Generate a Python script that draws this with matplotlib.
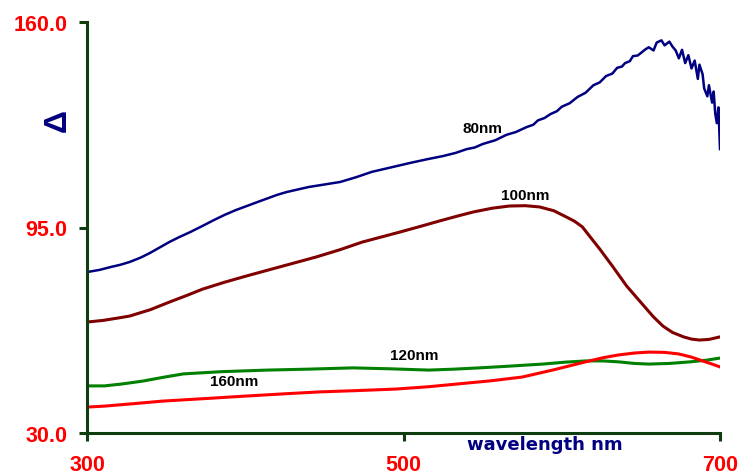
import matplotlib
matplotlib.use("Agg")
import matplotlib.pyplot as plt

# spectra, delta vs wavelength for four film thicknesses
wl_80 = [300, 308, 315, 321, 327, 334, 340, 346, 352, 358, 365, 373, 380, 387,
         394, 401, 408, 414, 420, 426, 433, 440, 450, 460, 470, 480, 492,
         504, 515, 525, 533, 540, 545, 550, 558, 565, 571, 578, 582, 585, 589,
         593, 597, 600, 605, 610, 615, 620, 624, 628, 632, 635, 638, 640, 643,
         645, 648, 650, 653, 655, 658, 660, 663, 665, 668, 670, 672, 674, 676,
         678, 680, 682, 684, 686, 687, 689, 690, 692, 693, 695, 696, 697, 698,
         699, 700]
d_80 = [80.9, 81.6, 82.5, 83.2, 84.1, 85.5, 87.0, 88.7, 90.4, 91.9, 93.5, 95.5,
        97.3, 99.0, 100.5, 101.8, 103.1, 104.2, 105.3, 106.2, 107.0, 107.8,
        108.6, 109.4, 110.9, 112.6, 114.0, 115.4, 116.6, 117.6, 118.6, 119.8,
        120.3, 121.4, 122.6, 124.3, 125.2, 126.8, 127.5, 128.9, 129.6, 130.9,
        131.8, 133.2, 134.3, 136.3, 137.6, 140.0, 140.9, 142.9, 143.7, 145.5,
        145.9, 147.0, 147.6, 149.2, 149.4, 150.2, 151.4, 152.0, 151.0, 153.5,
        154.2, 152.6, 153.8, 152.2, 151.0, 148.5, 151.2, 147.0, 149.5, 145.3,
        147.8, 142.0, 146.5, 143.5, 139.0, 136.5, 140.0, 134.5, 138.0, 131.0,
        128.0, 133.0, 119.8]

wl_100 = [300, 310, 320, 327, 340, 352, 363, 373, 387, 401, 423, 445, 460,
          474, 486, 498, 511, 523, 534, 544, 556, 567, 577, 586, 595, 603,
          608, 613, 618, 624, 632, 641, 650, 658, 664, 670, 677, 682, 687,
          693, 700]
d_100 = [65.1, 65.6, 66.4, 67.0, 69.0, 71.4, 73.5, 75.5, 77.7, 79.7, 82.7,
         85.7, 88.0, 90.4, 92.0, 93.6, 95.4, 97.1, 98.6, 99.9, 101.1, 101.8,
         101.9, 101.5, 100.3, 98.3, 97.0, 95.2, 92.0, 88.2, 82.8, 76.5, 71.3,
         66.7, 63.8, 61.8, 60.4, 59.7, 59.4, 59.6, 60.4]

wl_120 = [300, 311, 322, 335, 348, 361, 385, 414, 440, 468, 492, 516, 532,
          548, 562, 575, 588, 602, 615, 626, 636, 646, 655, 668, 681, 691, 700]
d_120 = [44.9, 44.9, 45.5, 46.4, 47.6, 48.7, 49.4, 49.9, 50.2, 50.6, 50.3,
         49.9, 50.2, 50.6, 51.0, 51.4, 51.8, 52.4, 52.8, 52.8, 52.5, 52.0,
         51.8, 52.0, 52.5, 53.0, 53.7]

wl_160 = [300, 311, 330, 348, 375, 401, 425, 447, 470, 495, 515, 534, 555,
          575, 595, 615, 626, 636, 646, 655, 665, 674, 682, 689, 695, 700]
d_160 = [38.2, 38.5, 39.3, 40.1, 40.9, 41.7, 42.4, 43.0, 43.4, 43.9, 44.6,
         45.5, 46.5, 47.7, 50.0, 52.5, 53.8, 54.7, 55.3, 55.6, 55.5, 55.0,
         54.0, 52.8, 51.8, 50.9]

x_ticks = [300, 500, 700]
y_ticks = [30.0, 95.0, 160.0]

axis_green = "#0f3d0f"
font = "Liberation Sans"

fig = plt.figure(figsize=(7.41, 4.77), dpi=100)
ax = fig.add_axes([87 / 741, 1 - 434 / 477, 633 / 741, 411 / 477])

ax.plot(wl_80, d_80, color="#000080", lw=1.8)
ax.plot(wl_100, d_100, color="#800000", lw=2.2)
ax.plot(wl_120, d_120, color="#008000", lw=2.2)
ax.plot(wl_160, d_160, color="#ff0000", lw=2.2)

ax.set_xlim(300, 700)
ax.set_ylim(30, 160)
ax.set_xticks(x_ticks)
ax.set_yticks(y_ticks)
ax.set_xticklabels([str(t) for t in x_ticks])
ax.set_yticklabels(["%.1f" % t for t in y_ticks])

for side in ("top", "right"):
    ax.spines[side].set_visible(False)
for side in ("left", "bottom"):
    ax.spines[side].set_color(axis_green)
    ax.spines[side].set_linewidth(2.2)
ax.tick_params(direction="out", length=6, width=2.2, color=axis_green,
               labelcolor="#ff0000", labelsize=15.5)
ax.tick_params(axis="x", pad=9)
ax.tick_params(axis="y", pad=8)
for lab in ax.get_xticklabels() + ax.get_yticklabels():
    lab.set_fontfamily(font)
    lab.set_fontweight("bold")

# curve labels
ax.text(550, 126.5, "80nm", ha="center", va="center", fontsize=11,
        fontweight="bold", family=font)
ax.text(577, 105.3, "100nm", ha="center", va="center", fontsize=11,
        fontweight="bold", family=font)
ax.text(507, 54.7, "120nm", ha="center", va="center", fontsize=11,
        fontweight="bold", family=font)
ax.text(393, 46.4, "160nm", ha="center", va="center", fontsize=11,
        fontweight="bold", family=font)

ax.text(-0.046, 0.762, "\u0394", transform=ax.transAxes, rotation=90,
        ha="center", va="center", fontsize=23, color="#000080",
        family=font, fontweight="bold")
ax.text(0.7235, -0.027, "wavelength nm", transform=ax.transAxes,
        ha="center", va="center", fontsize=13, color="#000080",
        family="DejaVu Sans", fontweight="bold")

fig.savefig("out.png", dpi=100)
